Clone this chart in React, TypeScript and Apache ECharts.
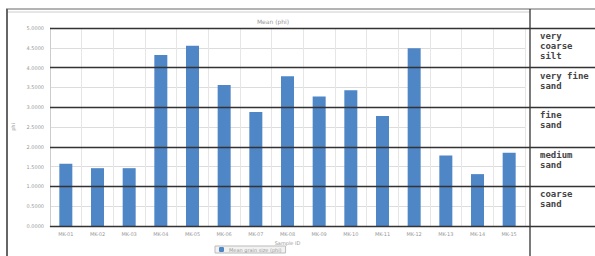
import React, { useEffect, useRef } from "react";
import * as echarts from "echarts";

const categories = [
  "MK-01", "MK-02", "MK-03", "MK-04", "MK-05", "MK-06", "MK-07", "MK-08",
  "MK-09", "MK-10", "MK-11", "MK-12", "MK-13", "MK-14", "MK-15",
];
const meanPhi = [1.57, 1.46, 1.46, 4.32, 4.55, 3.56, 2.88, 3.78, 3.27, 3.43, 2.78, 4.49, 1.78, 1.31, 1.85];
const bandLabels = ["very\ncoarse\nsilt", "very fine\nsand", "fine\nsand", "medium\nsand", "coarse\nsand"];
const seriesName = "Mean grain size (phi)";
const chartTitle = "Mean (phi)";
const yName = "phi";
const xName = "Sample ID";

export default function App() {
  const ref = useRef<HTMLDivElement>(null);
  useEffect(() => {
    document.body.style.margin = "0";
    const chart = echarts.init(ref.current!, null, { renderer: "svg" });
    const top = 28;
    const bottom = 226;
    const bandH = (bottom - top) / bandLabels.length;
    const bandText = bandLabels.map((t, i) => ({
      type: "text",
      left: 540,
      top: top + i * bandH + 3,
      z: 10,
      style: {
        text: t,
        fontSize: 9,
        fontWeight: "bold",
        fontFamily: "DejaVu Sans Mono",
        fill: "#444",
        lineHeight: 10,
      },
    }));
    chart.setOption({
      animation: false,
      backgroundColor: "#fff",
      title: {
        text: chartTitle,
        left: 268,
        top: 13,
        textAlign: "center",
        textStyle: { fontSize: 6, color: "#999", fontWeight: "normal", fontFamily: "DejaVu Sans" },
      },
      legend: {
        left: 215,
        top: 246,
        itemWidth: 5,
        itemHeight: 5,
        padding: [1, 4],
        borderColor: "#bbb",
        borderWidth: 1,
        backgroundColor: "#f2f2f2",
        textStyle: { fontSize: 5, color: "#999", fontFamily: "DejaVu Sans" },
        data: [seriesName],
      },
      grid: [
        { left: 50, right: 70, top, bottom: 256 - bottom },
        { left: 50, right: 0, top, bottom: 256 - bottom },
      ],
      xAxis: [
        {
          type: "category",
          gridIndex: 0,
          data: categories,
          name: xName,
          nameLocation: "middle",
          nameGap: 12,
          nameTextStyle: { fontSize: 5, color: "#999", fontFamily: "DejaVu Sans" },
          axisTick: { show: false },
          axisLine: { lineStyle: { color: "#ccc" } },
          axisLabel: { fontSize: 5, color: "#999", margin: 5, interval: 0, fontFamily: "DejaVu Sans" },
          splitLine: { show: true, lineStyle: { color: "#e6e6e6", width: 1 } },
        },
        {
          type: "value",
          gridIndex: 1,
          min: 0,
          max: 1,
          show: false,
        },
      ],
      yAxis: [
        {
          type: "value",
          gridIndex: 0,
          min: 0,
          max: 5,
          interval: 0.5,
          name: yName,
          nameLocation: "middle",
          nameGap: 28,
          nameTextStyle: { fontSize: 5, color: "#999", fontFamily: "DejaVu Sans" },
          axisLine: { show: true, lineStyle: { color: "#ccc" } },
          axisTick: { show: false },
          axisLabel: {
            fontSize: 5,
            color: "#999",
            margin: 6,
            fontFamily: "DejaVu Sans",
            formatter: (v: number) => v.toFixed(4),
          },
          splitLine: { lineStyle: { color: "#dcdcdc", width: 1 } },
        },
        {
          type: "value",
          gridIndex: 1,
          min: 0,
          max: 5,
          interval: 1,
          z: 5,
          axisLine: { show: false },
          axisTick: { show: false },
          axisLabel: { show: false },
          splitLine: { lineStyle: { color: "#333", width: 1.3 } },
        },
      ],
      series: [
        {
          name: seriesName,
          type: "bar",
          xAxisIndex: 0,
          yAxisIndex: 0,
          data: meanPhi,
          barWidth: 13,
          itemStyle: { color: "#4f86c6" },
        },
        {
          type: "scatter",
          xAxisIndex: 1,
          yAxisIndex: 1,
          data: [],
        },
      ],
      graphic: [
        { type: "line", shape: { x1: 6, y1: 9, x2: 595, y2: 9 }, style: { stroke: "#666", lineWidth: 1 }, z: 10 },
        { type: "line", shape: { x1: 8, y1: 12, x2: 530, y2: 12 }, style: { stroke: "#ccc", lineWidth: 1 }, z: 10 },
        { type: "line", shape: { x1: 7, y1: 9, x2: 7, y2: 256 }, style: { stroke: "#666", lineWidth: 2 }, z: 10 },
        { type: "line", shape: { x1: 530, y1: 9, x2: 530, y2: 256 }, style: { stroke: "#333", lineWidth: 1.3 }, z: 10 },
        ...bandText,
      ],
    });
    return () => chart.dispose();
  }, []);
  return <div ref={ref} style={{ width: 595, height: 256 }} />;
}
